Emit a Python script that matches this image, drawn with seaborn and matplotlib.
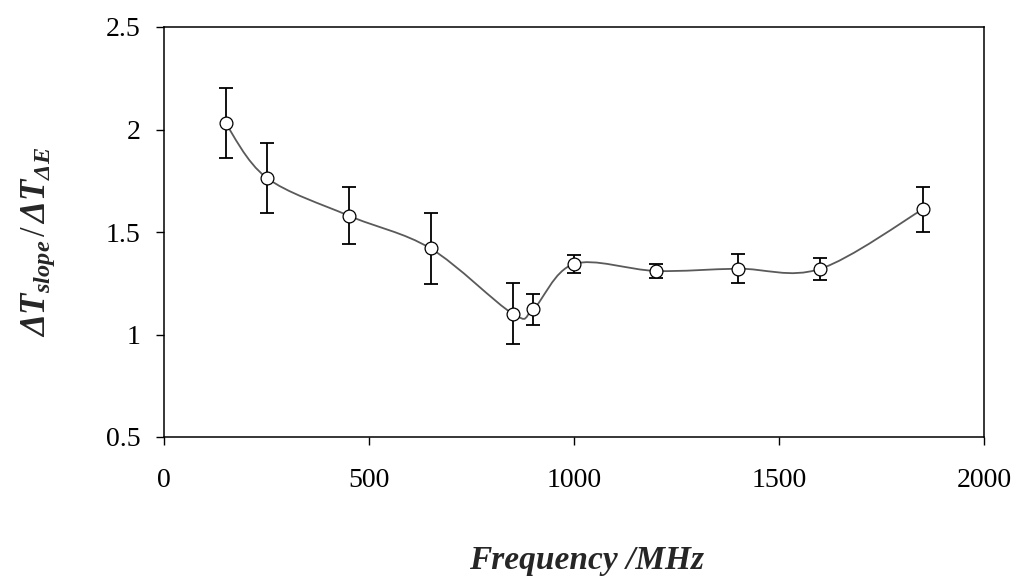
import numpy as np
import matplotlib
matplotlib.use("Agg")
import matplotlib.pyplot as plt
from matplotlib.path import Path
from matplotlib.patches import PathPatch
from matplotlib.ticker import FuncFormatter
import seaborn as sns
import pandas as pd

# Measured ratio vs. excitation frequency, with standard deviation
freq_mhz = [150, 250, 450, 650, 850, 900, 1000, 1200, 1400, 1600, 1850]
ratio = [2.031, 1.765, 1.580, 1.420, 1.102, 1.122, 1.344, 1.310, 1.321, 1.320, 1.610]
ratio_sd = [0.170, 0.170, 0.140, 0.175, 0.150, 0.075, 0.045, 0.035, 0.070, 0.055, 0.110]

x_ticks = [0, 500, 1000, 1500, 2000]
y_ticks = [0.5, 1.0, 1.5, 2.0, 2.5]

sns.set_theme(style="ticks")
plt.rcParams["font.family"] = ["Liberation Serif", "DejaVu Serif"]
plt.rcParams["mathtext.fontset"] = "custom"
plt.rcParams["mathtext.rm"] = "Liberation Serif"
plt.rcParams["mathtext.it"] = "Liberation Serif:italic"
plt.rcParams["mathtext.bf"] = "Liberation Serif:bold"
plt.rcParams["mathtext.bfit"] = "Liberation Serif:italic:bold"

df = pd.DataFrame({"freq": freq_mhz, "ratio": ratio, "sd": ratio_sd})

fig = plt.figure(figsize=(10.17, 5.76), dpi=100)
ax = fig.add_axes([164 / 1017, 1 - 437 / 576, 820 / 1017, 410 / 576])


def smooth_path(xs, ys):
    """Cubic Bezier path through the points (Catmull-Rom style tangents)."""
    pts = np.column_stack([xs, ys]).astype(float)
    n = len(pts)
    verts = [pts[0]]
    codes = [Path.MOVETO]
    for i in range(n - 1):
        p_prev = pts[i - 1] if i > 0 else pts[i]
        p0, p1 = pts[i], pts[i + 1]
        p_next = pts[i + 2] if i + 2 < n else pts[i + 1]
        c1 = p0 + (p1 - p_prev) / 6.0
        c2 = p1 - (p_next - p0) / 6.0
        verts += [c1, c2, p1]
        codes += [Path.CURVE4] * 3
    return Path(verts, codes)


ax.add_patch(PathPatch(smooth_path(df["freq"], df["ratio"]), facecolor="none",
                       edgecolor="#5a5a5a", linewidth=1.3, zorder=2))

ax.errorbar(df["freq"], df["ratio"], yerr=df["sd"], fmt="none", ecolor="black",
            elinewidth=1.3, capsize=5, capthick=1.3, zorder=3)

sns.scatterplot(data=df, x="freq", y="ratio", ax=ax, s=85, marker="o",
                facecolor="white", edgecolor="black", linewidth=0.9, zorder=4,
                legend=False)

ax.set_xlim(0, 2000)
ax.set_ylim(0.5, 2.5)
ax.set_xticks(x_ticks)
ax.set_yticks(y_ticks)
ax.yaxis.set_major_formatter(FuncFormatter(lambda v, p: f"{v:g}"))
ax.set_xlabel("")
ax.set_ylabel("")

for s in ax.spines.values():
    s.set_visible(True)
    s.set_linewidth(1.1)
    s.set_color("black")

ax.tick_params(axis="both", direction="out", length=6, width=1.0, colors="black",
               labelsize=20)
ax.tick_params(axis="x", pad=16)
ax.tick_params(axis="y", pad=11)

fig.text(587 / 1017, 1 - 569 / 576, "Frequency /MHz", ha="center", va="baseline",
         fontsize=24, fontweight="bold", fontstyle="italic")

fig.text(38 / 1017, 1 - 242 / 576,
         r"$\mathbfit{\Delta T}_{\mathbfit{slope}}\,/\,\mathbfit{\Delta T}_{\mathbfit{\Delta E}}$",
         rotation=90, ha="center", va="center", fontsize=25)

fig.savefig("out.png", dpi=100, facecolor="white")
